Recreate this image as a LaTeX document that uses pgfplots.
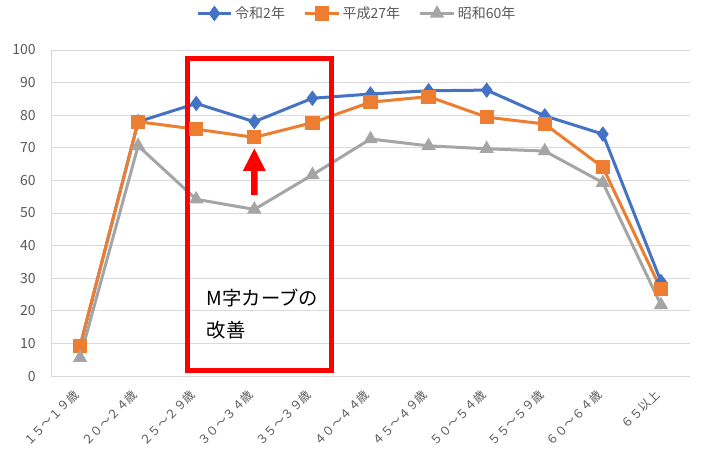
\documentclass[border=0pt]{standalone}
\usepackage{pgfplots}
\pgfplotsset{compat=1.18}
\usepackage{fontspec}
\setmainfont{Noto Sans CJK JP}
\definecolor{sblue}{HTML}{4472C4}
\definecolor{sorange}{HTML}{ED7D31}
\definecolor{sgray}{HTML}{A5A5A5}
\definecolor{gridc}{HTML}{D9D9D9}
\definecolor{txt}{HTML}{595959}
\begin{document}
\begin{tikzpicture}
\path[use as bounding box] (-38.25pt,-64.5pt) rectangle (488.25pt,282pt);
\begin{axis}[
  at={(0pt,0pt)}, anchor=south west,
  scale only axis, width=479.25pt, height=244.5pt,
  xmin=-0.5, xmax=10.5, ymin=0, ymax=100,
  xtick={0,...,10},
  xticklabels={１５～１９歳,２０～２４歳,２５～２９歳,３０～３４歳,３５～３９歳,４０～４４歳,４５～４９歳,５０～５４歳,５５～５９歳,６０～６４歳,６５以上},
  ytick={0,10,...,100},
  /pgf/number format/assume math mode=true,
  ymajorgrids, grid style={gridc, line width=0.75pt},
  major tick length=0pt,
  axis x line*=bottom, axis y line*=left,
  axis line style={gridc, line width=0.75pt, -},
  x tick label style={rotate=45, anchor=east, font=\fontsize{9}{9}\selectfont, text=txt, xshift=-7pt, yshift=-7pt},
  y tick label style={font=\fontsize{10.5}{10.5}\selectfont, text=txt, xshift=-8pt},
  legend style={at={(0.5,1)}, anchor=south, xshift=-10pt, yshift=18pt, draw=none, font=\fontsize{10.5}{10.5}\selectfont, text=txt, legend columns=3, /tikz/every even column/.append style={column sep=12pt}},
  legend image code/.code={\draw[mark repeat=2, mark phase=2] plot coordinates {(0pt,0pt) (12.5pt,0pt) (25pt,0pt)};},
  clip=false,
]
\addplot[sblue, line width=2.25pt, mark=diamond*, mark size=4pt, mark options={solid}] coordinates {
(0,9.0) (1,78.0) (2,83.6) (3,78.0) (4,85.2) (5,86.5) (6,87.5) (7,87.7) (8,79.8) (9,74.2) (10,29.0)};
\addlegendentry{令和2年}
\addplot[sorange, line width=2.25pt, mark=square*, mark size=4.2pt] coordinates {
(0,9.2) (1,78.0) (2,75.7) (3,73.2) (4,77.7) (5,84.0) (6,85.7) (7,79.4) (8,77.3) (9,64.0) (10,26.6)};
\addlegendentry{平成27年}
\addplot[sgray, line width=2.25pt, mark=triangle*, mark size=4pt] coordinates {
(0,5.6) (1,70.6) (2,54.2) (3,51.1) (4,61.7) (5,72.7) (6,70.6) (7,69.7) (8,69.0) (9,59.3) (10,21.8)};
\addlegendentry{昭和60年}
\draw[red, line width=3.75pt] (axis cs:1.85,1.84) rectangle (axis cs:4.33,97.5);
\fill[red] (axis cs:3,69.8) -- (axis cs:3.198,62.9) -- (axis cs:3.057,62.9) -- (axis cs:3.057,55.5) -- (axis cs:2.943,55.5) -- (axis cs:2.943,62.9) -- (axis cs:2.802,62.9) -- cycle;
\node[anchor=west, align=left, inner sep=0pt, font=\fontsize{14.5}{24}\selectfont, text=black] at (axis cs:2.18,19.0) {M字カーブの\\改善};
\end{axis}
\end{tikzpicture}
\end{document}
